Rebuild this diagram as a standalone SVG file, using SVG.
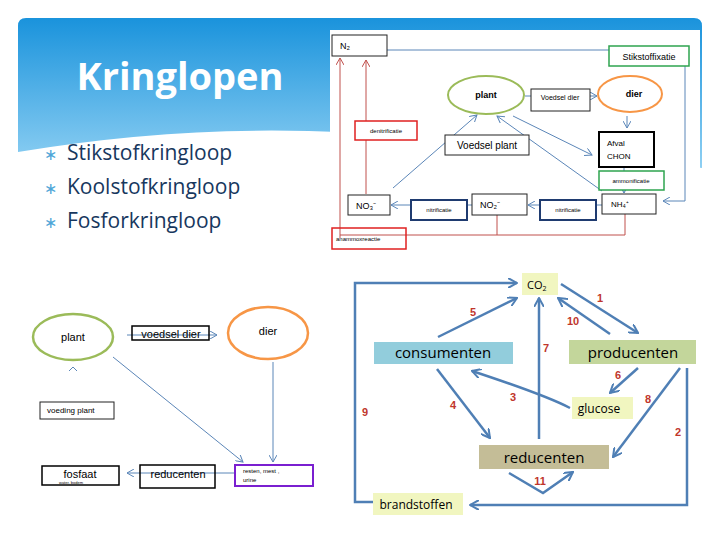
<svg xmlns="http://www.w3.org/2000/svg" width="720" height="540" viewBox="0 0 720 540">
<defs>
<linearGradient id="hg" x1="0" y1="0" x2="0" y2="1"><stop offset="0" stop-color="#1a93dc"/><stop offset="1" stop-color="#8fd0f3"/></linearGradient>
<marker id="ab" markerWidth="8" markerHeight="8" refX="7" refY="4" orient="auto" markerUnits="userSpaceOnUse"><path d="M0,0 L7,4 L0,8" fill="none" stroke="#5b86b8" stroke-width="1"/></marker>
<marker id="ar" markerWidth="8" markerHeight="8" refX="7" refY="4" orient="auto" markerUnits="userSpaceOnUse"><path d="M0,0 L7,4 L0,8" fill="none" stroke="#c0504d" stroke-width="1"/></marker>
<marker id="ac" markerWidth="10" markerHeight="10" refX="9" refY="5" orient="auto" markerUnits="userSpaceOnUse"><path d="M0,0 L9,5 L0,10" fill="none" stroke="#4f7fb5" stroke-width="2"/></marker>
</defs>
<style>
.t{font-family:"Liberation Sans",Arial,sans-serif;fill:#000}
.c{font-family:"Open Sans","Liberation Sans",sans-serif}
.bx{fill:#fff;stroke:#222;stroke-width:1}
.bl{fill:none;stroke:#5b86b8;stroke-width:1}
.rl{fill:none;stroke:#c0504d;stroke-width:1}
.cl{fill:none;stroke:#4f7fb5;stroke-width:2.5}
.n{font-family:"Liberation Sans",Arial,sans-serif;font-weight:bold;font-size:11px;fill:#c0362c;text-anchor:middle}
</style>
<rect width="720" height="540" fill="#fff"/>
<path d="M18,26 Q18,18 26,18 L694,18 Q702,18 702,26 L702,168 Q560,150 420,138 Q220,118 18,152 Z" fill="url(#hg)"/>
<text x="180" y="90" class="c" font-size="38" font-weight="bold" fill="#fff" text-anchor="middle">Kringlopen</text>
<g class="c" font-size="21" fill="#17375e">
<text x="44" y="160" fill="#4ea6d8" font-size="16">∗</text><text x="67" y="160">Stikstofkringloop</text>
<text x="44" y="194" fill="#4ea6d8" font-size="16">∗</text><text x="67" y="194">Koolstofkringloop</text>
<text x="44" y="228" fill="#4ea6d8" font-size="16">∗</text><text x="67" y="228">Fosforkringloop</text>
</g>

<!-- Top-right: nitrogen cycle -->
<rect x="330" y="30" width="370" height="220" fill="#fff"/>
<g id="edges-n">
<path class="bl" d="M387,50 L685,50 L685,201 L663,201" marker-end="url(#ab)"/>
<path class="bl" d="M525,96 L597,96" marker-end="url(#ab)"/>
<path class="bl" d="M627,116 L627,128" marker-end="url(#ab)"/>
<path class="bl" d="M624,168 L624,193" marker-end="url(#ab)"/>
<path class="bl" d="M393,188 L477,115" marker-end="url(#ab)"/>
<path class="bl" d="M602,191 L497,116" marker-end="url(#ab)"/>
<path class="bl" d="M513,116 L592,155" marker-end="url(#ab)"/>
<path class="bl" d="M602,205 L528,205" marker-end="url(#ab)"/>
<path class="bl" d="M472,205 L391,205" marker-end="url(#ab)"/>
<path class="rl" d="M340,238 L340,58" marker-end="url(#ar)"/>
<path class="rl" d="M366,194 L366,60" marker-end="url(#ar)"/>
<path class="rl" d="M340,235 L625,235 L625,214 M497,235 L497,215"/>
</g>
<g id="N2"><rect class="bx" x="332" y="35" width="55" height="21"/><text class="t" x="340" y="49" font-size="9">N₂</text></g>
<g id="stikstoffixatie"><rect x="609" y="46" width="80" height="20" fill="#fff" stroke="#2ea44f" stroke-width="1.5"/><text class="t" x="649" y="60" font-size="9" text-anchor="middle">Stikstoffixatie</text></g>
<g id="plantN"><ellipse cx="486" cy="95" rx="38" ry="19" fill="#fff" stroke="#9bbb59" stroke-width="2"/><text class="t" x="486" y="98" font-size="9" font-weight="bold" text-anchor="middle">plant</text></g>
<g id="voedseldierN"><rect class="bx" x="531" y="89" width="59" height="22"/><text class="t" x="560" y="100" font-size="7" text-anchor="middle">Voedsel dier</text></g>
<g id="dierN"><ellipse cx="630" cy="94" rx="32" ry="18" fill="#fff" stroke="#f79646" stroke-width="2"/><text class="t" x="634" y="97" font-size="9" font-weight="bold" text-anchor="middle">dier</text></g>
<g id="denitrificatie"><rect x="355" y="121" width="62" height="19" fill="#fff" stroke="#e02020" stroke-width="1.5"/><text class="t" x="386" y="133" font-size="6" text-anchor="middle">denitrificatie</text></g>
<g id="voedselplantN"><rect class="bx" x="445" y="135" width="84" height="20"/><text class="t" x="487" y="149" font-size="10" text-anchor="middle">Voedsel plant</text></g>
<g id="afval"><rect x="599" y="132" width="55" height="35" fill="#fff" stroke="#000" stroke-width="2"/><text class="t" x="607" y="146" font-size="8">Afval</text><text class="t" x="607" y="159" font-size="8">CHON</text></g>
<g id="ammonificatie"><rect x="599" y="171" width="65" height="19" fill="#fff" stroke="#2ea44f" stroke-width="1.5"/><text class="t" x="631" y="183" font-size="6" text-anchor="middle">ammonificatie</text></g>
<g id="NH4"><rect class="bx" x="602" y="194" width="54" height="20"/><text class="t" x="611" y="207" font-size="8">NH₄⁺</text></g>
<g id="nitrificatie2"><rect x="540" y="200" width="56" height="20" fill="#fff" stroke="#1f3b70" stroke-width="2"/><text class="t" x="568" y="212" font-size="6" text-anchor="middle">nitrificatie</text></g>
<g id="NO2"><rect class="bx" x="472" y="194" width="55" height="21"/><text class="t" x="480" y="208" font-size="9">NO₂⁻</text></g>
<g id="nitrificatie1"><rect x="411" y="200" width="56" height="20" fill="#fff" stroke="#1f3b70" stroke-width="2"/><text class="t" x="439" y="212" font-size="6" text-anchor="middle">nitrificatie</text></g>
<g id="NO3"><rect class="bx" x="348" y="195" width="42" height="20"/><text class="t" x="356" y="209" font-size="9">NO₃⁻</text></g>
<g id="anammox"><rect x="332" y="228" width="74" height="21" fill="none" stroke="#e02020" stroke-width="1.5"/><text class="t" x="336" y="241" font-size="6">anammoxreactie</text></g>

<!-- Bottom-left: phosphorus cycle -->
<g id="edges-p">
<path class="bl" d="M127,335 L217,335" marker-end="url(#ab)"/>
<path class="bl" d="M113,357 L243,462" marker-end="url(#ab)"/>
<path class="bl" d="M273,362 L273,462" marker-end="url(#ab)"/>
<path class="bl" d="M235,473 L127,473" marker-end="url(#ab)"/>
<path class="bl" d="M69,371 L73,367 L77,371"/>
</g>
<g id="plantP"><ellipse cx="73" cy="337" rx="40" ry="23" fill="#fff" stroke="#9bbb59" stroke-width="2.5"/><text class="t" x="73" y="341" font-size="11" text-anchor="middle">plant</text></g>
<g id="voedseldierP"><rect x="132" y="326" width="77" height="14" fill="none" stroke="#000" stroke-width="1.5"/><text class="t" x="171" y="338" font-size="11" text-anchor="middle">voedsel dier</text></g>
<g id="dierP"><ellipse cx="268" cy="333" rx="40" ry="26" fill="#fff" stroke="#f79646" stroke-width="2.5"/><text class="t" x="268" y="335" font-size="11" text-anchor="middle">dier</text></g>
<g id="voedingplant"><rect class="bx" x="40" y="402" width="74" height="17"/><text class="t" x="47" y="413" font-size="8">voeding plant</text></g>
<g id="resten"><rect x="235" y="465" width="78" height="21" fill="#fff" stroke="#7a1fd0" stroke-width="2"/><text class="t" x="243" y="473" font-size="6">resten, mest ,</text><text class="t" x="243" y="482" font-size="6">urine</text></g>
<g id="reducentenP"><rect x="140" y="465" width="75" height="23" fill="none" stroke="#000" stroke-width="1.5"/><text class="t" x="178" y="478" font-size="11" text-anchor="middle">reducenten</text></g>
<g id="fosfaat"><rect x="42" y="466" width="77" height="19" fill="#fff" stroke="#000" stroke-width="1.5"/><text class="t" x="80" y="478" font-size="11" text-anchor="middle">fosfaat</text><text class="t" x="59" y="484" font-size="4">water, bodem</text></g>

<!-- Bottom-right: carbon cycle -->
<g id="edges-c">
<path class="cl" d="M373,502 L355,502 L355,283 L517,283" marker-end="url(#ac)"/>
<path class="cl" d="M438,337 L517,298" marker-end="url(#ac)"/>
<path class="cl" d="M561,284 L638,333" marker-end="url(#ac)"/>
<path class="cl" d="M610,334 L558,298" marker-end="url(#ac)"/>
<path class="cl" d="M539,439 L539,298" marker-end="url(#ac)"/>
<path class="cl" d="M638,368 L610,393" marker-end="url(#ac)"/>
<path class="cl" d="M570,408 Q545,395 472,371" marker-end="url(#ac)"/>
<path class="cl" d="M437,369 L490,438" marker-end="url(#ac)"/>
<path class="cl" d="M680,368 L613,457" marker-end="url(#ac)"/>
<path class="cl" d="M687,368 L687,505 L470,505" marker-end="url(#ac)"/>
<path class="cl" d="M509,473 L543,493 L573,472" marker-end="url(#ac)"/>
</g>
<g id="CO2"><rect x="522" y="273" width="36" height="22" fill="#f1f6c0"/><text class="c" x="527" y="289" font-size="11">CO<tspan font-size="7" dy="2">2</tspan></text></g>
<g id="consumenten"><rect x="374" y="342" width="139" height="22" fill="#92cddc"/><text class="c" x="443" y="358" font-size="15" text-anchor="middle">consumenten</text></g>
<g id="producenten"><rect x="569" y="340" width="127" height="24" fill="#c3d69b"/><text class="c" x="633" y="358" font-size="15" text-anchor="middle">producenten</text></g>
<g id="glucose"><rect x="572" y="397" width="61" height="22" fill="#f1f6c0"/><text class="c" x="599" y="413" font-size="12" text-anchor="middle">glucose</text></g>
<g id="reducentenC"><rect x="479" y="445" width="130" height="24" fill="#c4bd97"/><text class="c" x="544" y="463" font-size="15" text-anchor="middle">reducenten</text></g>
<g id="brandstoffen"><rect x="373" y="493" width="90" height="22" fill="#f1f6c0"/><text class="c" x="416" y="509" font-size="12" text-anchor="middle">brandstoffen</text></g>
<g id="labels">
<text class="n" x="600" y="302">1</text><text class="n" x="573" y="325">10</text><text class="n" x="473" y="316">5</text><text class="n" x="546" y="352">7</text><text class="n" x="618" y="379">6</text><text class="n" x="513" y="401">3</text><text class="n" x="453" y="409">4</text><text class="n" x="648" y="403">8</text><text class="n" x="365" y="416">9</text><text class="n" x="678" y="436">2</text><text class="n" x="540" y="485">11</text>
</g>
</svg>
